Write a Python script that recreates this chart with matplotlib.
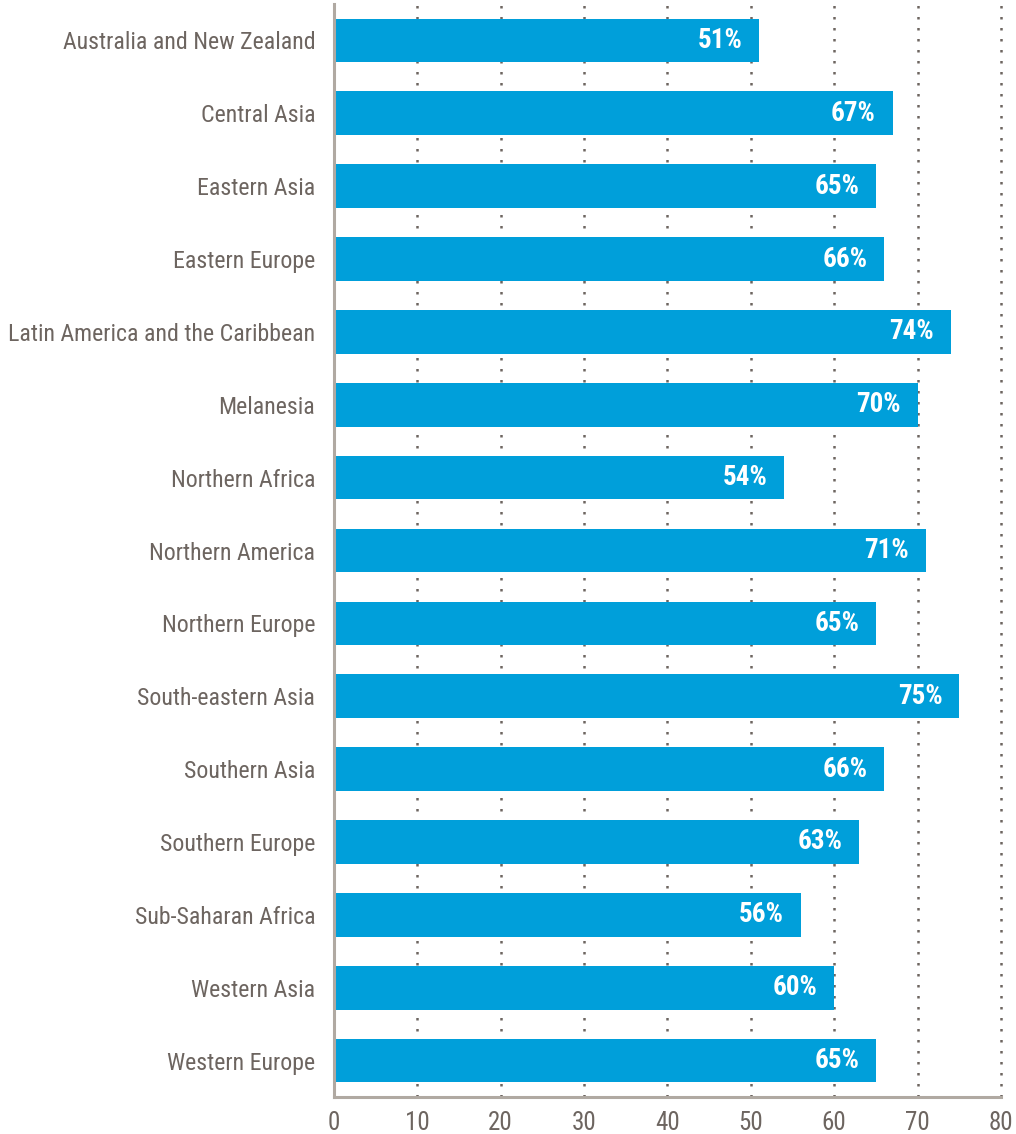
import matplotlib
matplotlib.use("Agg")
import matplotlib.pyplot as plt

regions = [
    "Australia and New Zealand", "Central Asia", "Eastern Asia", "Eastern Europe",
    "Latin America and the Caribbean", "Melanesia", "Northern Africa",
    "Northern America", "Northern Europe", "South-eastern Asia", "Southern Asia",
    "Southern Europe", "Sub-Saharan Africa", "Western Asia", "Western Europe",
]
values = [51, 67, 65, 66, 74, 70, 54, 71, 65, 75, 66, 63, 56, 60, 65]
xticks = [0, 10, 20, 30, 40, 50, 60, 70, 80]

bar_color = "#009fda"
text_color = "#6d6560"
spine_color = "#b0a9a2"

plt.rcParams["font.family"] = ["Roboto Condensed", "Roboto", "DejaVu Sans"]
plt.rcParams["font.stretch"] = "condensed"

fig = plt.figure(figsize=(10.16, 11.34), dpi=100)
ax = fig.add_axes([0.3287, 0.0326, 0.6565, 0.9639])

y = list(range(len(regions)))
ax.barh(y, values, height=0.6, color=bar_color, zorder=2)

for yi, v in zip(y, values):
    ax.annotate(f"{v}%", (v, yi), xytext=(-12, 0), textcoords="offset points",
                ha="right", va="center", color="white", fontsize=19.5,
                fontweight="bold", zorder=3)

ax.set_xlim(0, 80)
ax.set_ylim(len(regions) - 0.5, -0.5)
ax.set_xticks(xticks)
ax.set_yticks(y)
ax.set_yticklabels(regions)
ax.tick_params(axis="both", length=0, colors=text_color, labelsize=17.2)
ax.tick_params(axis="x", pad=10, labelsize=18)
ax.tick_params(axis="y", pad=13.5)

ax.grid(axis="x", linestyle=(0, (1, 3.4)), linewidth=1.8, color=text_color, zorder=1)
ax.grid(axis="y", visible=False)
ax.set_axisbelow(True)
# keep the last dotted line (x=80) from being cut in half at the axes edge
for gl in ax.get_xgridlines():
    gl.set_clip_on(False)

for s in ["top", "right"]:
    ax.spines[s].set_visible(False)
for s in ["left", "bottom"]:
    ax.spines[s].set_color(spine_color)
    ax.spines[s].set_linewidth(2.2)
    ax.spines[s].set_zorder(4)

fig.savefig("out.png", dpi=100)
